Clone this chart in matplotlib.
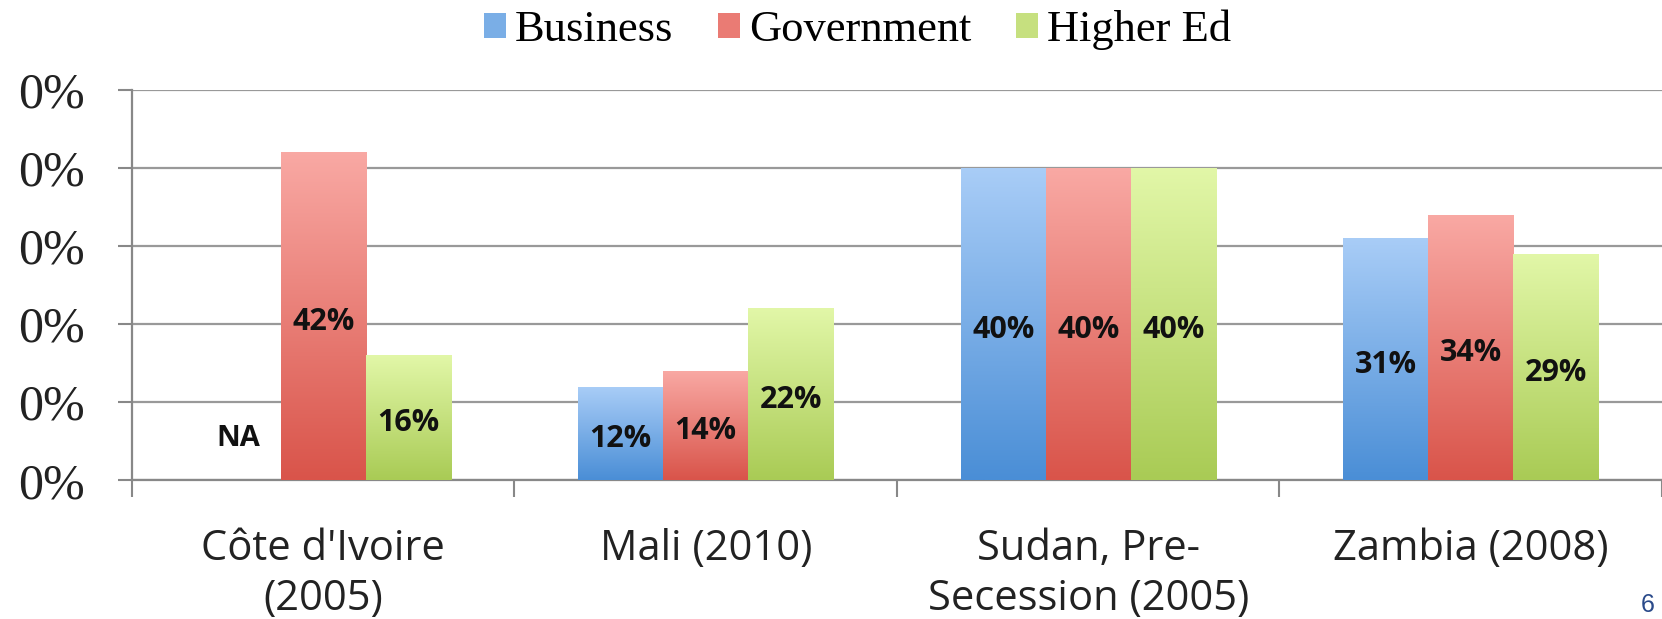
import numpy as np
import matplotlib
matplotlib.use("Agg")
import matplotlib.pyplot as plt
from matplotlib.colors import LinearSegmentedColormap
from matplotlib.patches import Patch

categories = ["Côte d'Ivoire\n(2005)", "Mali (2010)", "Sudan, Pre-\nSecession (2005)", "Zambia (2008)"]
series = ["Business", "Government", "Higher Ed"]
business = [np.nan, 12, 40, 31]
government = [42, 14, 40, 34]
higher_ed = [16, 22, 40, 29]
y_ticks = [0, 10, 20, 30, 40, 50]
y_tick_labels = ["0%", "0%", "0%", "0%", "0%", "0%"]

tops = ["#a9cdf7", "#f9a9a4", "#e2f7a8"]
bottoms = ["#4a8ed6", "#d9544a", "#a9cb55"]
mids = ["#7aaee6", "#ea7b74", "#c6e07f"]

fig = plt.figure(figsize=(16.62, 6.19), dpi=100)
ax = fig.add_axes([0.0794, 0.224, 0.9206, 0.631])

n = len(series)
gap = 1.5
w = 1.0 / (n + gap)
x = np.arange(len(categories))
values = [business, government, higher_ed]

grad = np.linspace(1, 0, 256).reshape(-1, 1)
for i, vals in enumerate(values):
    offs = (i - (n - 1) / 2) * w
    arr = np.array(vals, dtype=float)
    bars = ax.bar(x + offs, np.nan_to_num(arr), width=w, color=mids[i], zorder=2, linewidth=0)
    cmap = LinearSegmentedColormap.from_list("g%d" % i, [bottoms[i], tops[i]])
    for b, v in zip(bars, arr):
        if np.isnan(v):
            continue
        bx, by = b.get_x(), b.get_y()
        bw, bh = b.get_width(), b.get_height()
        im = ax.imshow(grad, extent=[bx, bx + bw, by, by + bh], aspect="auto",
                       cmap=cmap, vmin=0, vmax=1, zorder=3, interpolation="bilinear")
        im.set_clip_path(b)
        ax.annotate(f"{v:.0f}%", (bx + bw / 2, by + bh / 2), xytext=(0, -4),
                    textcoords="offset points", ha="center", va="center",
                    fontsize=22, fontweight="bold", color="#111111",
                    family="Open Sans", zorder=5)
    if i == 0:
        for xi, v in zip(x + offs, arr):
            if np.isnan(v):
                ax.text(xi, 5.3, "NA", ha="center", va="center", fontsize=21,
                        fontweight="bold", color="#111111", family="Open Sans", zorder=5)

ax.set_xlim(-0.5, len(categories) - 0.5)
ax.set_ylim(0, 50)
ax.set_yticks(y_ticks)
ax.set_yticklabels(y_tick_labels, family="Liberation Serif", fontsize=36, color="#222222")
ax.yaxis.grid(True, color="#999999", linewidth=1.6, zorder=0)
ax.set_axisbelow(True)

ax.set_xticks(x)
ax.set_xticklabels(categories, family="Open Sans", fontsize=30, color="#222222", linespacing=1.25)
ax.set_xticks(np.arange(len(categories) + 1) - 0.5, minor=True)
ax.tick_params(axis="x", which="major", length=0, pad=34)
ax.tick_params(axis="x", which="minor", length=12, width=1.5, color="#888888", direction="out")
ax.tick_params(axis="y", length=10, width=1.5, color="#888888", pad=24)

for s in ["top", "right"]:
    ax.spines[s].set_visible(False)
for s in ["left", "bottom"]:
    ax.spines[s].set_color("#888888")
    ax.spines[s].set_linewidth(1.6)

handles = [Patch(facecolor=mids[i], edgecolor="none") for i in range(n)]
fig.legend(handles, series, loc="center", bbox_to_anchor=(0.516, 0.952), ncol=3,
           frameon=False, prop={"family": "Liberation Serif", "size": 32},
           handlelength=0.5, handleheight=0.5, handletextpad=0.2, columnspacing=1.0)

fig.text(0.9915, 0.004, "6", ha="center", va="bottom", fontsize=18, color="#2a4a8a",
         family="Liberation Sans")

fig.savefig("out.png", dpi=100)
